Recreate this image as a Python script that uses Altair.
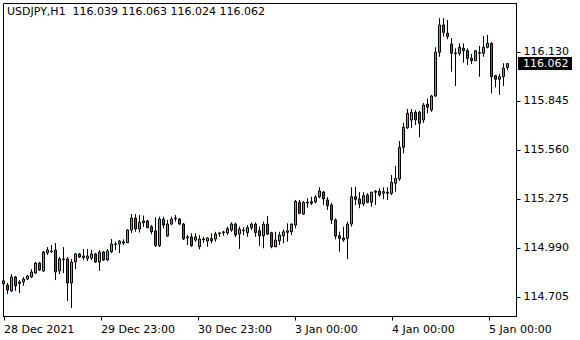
import altair as alt
import pandas as pd

symbol = "USDJPY"
timeframe = "H1"

opens = [114.799,114.774,114.740,114.821,114.783,114.792,114.809,114.821,114.844,114.902,
114.856,114.961,114.969,114.978,114.856,114.926,114.926,114.786,114.908,114.955,
114.943,114.929,114.931,114.955,114.908,114.966,114.920,114.968,115.010,115.013,
115.025,115.020,115.094,115.164,115.100,115.137,115.147,115.114,115.089,115.003,
115.158,115.059,115.129,115.160,115.158,115.129,115.050,115.054,115.036,114.997,
115.038,115.030,115.044,115.042,115.073,115.079,115.077,115.094,115.129,115.071,
115.090,115.079,115.108,115.129,115.090,115.061,115.129,115.079,114.997,115.032,
115.061,115.081,115.084,115.123,115.255,115.187,115.251,115.259,115.257,115.288,
115.315,115.269,115.240,115.153,115.061,115.048,115.046,115.129,115.288,115.275,
115.246,115.298,115.255,115.314,115.321,115.308,115.308,115.308,115.366,115.391,
115.575,115.689,115.734,115.779,115.779,115.734,115.827,115.792,115.874,116.128,
116.287,116.239,116.176,116.120,116.122,116.151,116.137,116.093,116.079,116.122,
116.122,116.157,116.180,115.992,115.971,115.986,116.039]
highs = [114.809,114.786,114.838,114.827,114.803,114.821,114.833,114.867,114.908,114.908,
114.972,114.995,115.007,115.019,114.937,114.995,114.937,114.926,114.961,114.961,
114.984,114.984,114.978,114.961,114.978,114.972,114.984,115.042,115.026,115.036,
115.040,115.098,115.187,115.187,115.182,115.178,115.153,115.123,115.168,115.172,
115.172,115.153,115.172,115.182,115.164,115.135,115.065,115.075,115.075,115.065,
115.055,115.052,115.075,115.084,115.084,115.090,115.114,115.139,115.137,115.114,
115.110,115.123,115.137,115.139,115.114,115.143,115.176,115.084,115.084,115.084,
115.098,115.133,115.133,115.269,115.269,115.263,115.279,115.288,115.298,115.343,
115.321,115.285,115.253,115.162,115.084,115.114,115.143,115.343,115.346,115.314,
115.314,115.308,115.317,115.327,115.337,115.343,115.343,115.414,115.467,115.612,
115.718,115.798,115.798,115.792,115.788,115.833,115.860,115.880,116.157,116.326,
116.326,116.316,116.210,116.151,116.180,116.180,116.151,116.118,116.141,116.165,
116.223,116.229,116.186,115.996,116.002,116.064,116.063]
lows = [114.769,114.722,114.734,114.740,114.728,114.769,114.803,114.815,114.838,114.856,
114.850,114.949,114.961,114.803,114.838,114.844,114.681,114.641,114.867,114.931,
114.920,114.914,114.920,114.902,114.856,114.914,114.914,114.961,114.978,114.961,
115.007,115.019,115.077,115.084,115.079,115.112,115.104,115.069,114.997,114.995,
115.104,115.055,115.123,115.143,115.123,115.036,115.007,114.997,115.026,114.982,
115.020,114.997,115.017,115.026,115.055,115.061,115.065,115.084,115.052,114.984,
115.065,115.055,115.094,115.055,115.001,114.988,115.065,114.988,114.994,115.007,
115.017,115.026,115.065,115.104,115.186,115.182,115.224,115.240,115.250,115.279,
115.240,115.211,115.129,115.040,114.968,115.026,114.924,115.114,115.240,115.221,
115.234,115.250,115.230,115.240,115.288,115.273,115.269,115.298,115.317,115.379,
115.540,115.682,115.688,115.705,115.634,115.717,115.773,115.782,115.868,116.102,
116.219,116.204,116.015,115.932,116.108,116.067,116.054,116.060,116.077,115.986,
116.102,116.151,115.889,115.924,115.880,115.932,116.024]
closes = [114.780,114.745,114.821,114.769,114.792,114.809,114.827,114.850,114.902,114.862,
114.966,114.978,114.972,114.850,114.926,114.923,114.786,114.908,114.955,114.937,
114.934,114.943,114.955,114.908,114.966,114.920,114.972,115.013,115.013,115.030,
115.019,115.094,115.164,115.100,115.139,115.147,115.108,115.084,115.003,115.158,
115.123,115.129,115.158,115.164,115.129,115.042,115.054,115.003,115.054,115.042,
115.042,115.048,115.032,115.071,115.077,115.083,115.102,115.129,115.065,115.100,
115.094,115.108,115.129,115.079,115.061,115.128,115.071,114.997,115.036,115.065,
115.084,115.090,115.128,115.261,115.191,115.255,115.255,115.250,115.286,115.321,
115.275,115.236,115.153,115.059,115.046,115.036,115.129,115.288,115.273,115.246,
115.294,115.255,115.314,115.321,115.298,115.317,115.314,115.372,115.395,115.575,
115.692,115.773,115.779,115.734,115.715,115.821,115.808,115.874,116.128,116.287,
116.244,116.219,116.122,116.124,116.157,116.137,116.093,116.079,116.137,116.126,
116.157,116.180,115.986,115.971,115.986,116.035,116.062]

x_tick_values = [0, 24.25, 48.5, 72.75, 97, 121.25]
x_tick_labels = ["28 Dec 2021", "29 Dec 23:00", "30 Dec 23:00", "3 Jan 00:00", "4 Jan 00:00", "5 Jan 00:00"]
y_tick_values = [114.705, 114.990, 115.275, 115.560, 115.845, 116.130]

df = pd.DataFrame({
    "i": list(range(len(opens))),
    "open": opens, "high": highs, "low": lows, "close": closes,
})
df["dir"] = ["up" if c >= o else "down" for o, c in zip(opens, closes)]

FONT = "DejaVu Sans"
FS = 11
xscale = alt.Scale(domain=[-0.125, 128.125], nice=False, zero=False, padding=0)
yscale = alt.Scale(domain=[114.5941, 116.4146], nice=False, zero=False, padding=0)

label_arr = "[" + ",".join("'" + s + "'" for s in x_tick_labels) + "]"
xaxis = alt.Axis(values=x_tick_values, labelExpr=label_arr + "[round(datum.value/24.25)]",
                 labelAlign="left", labelOffset=0, labelPadding=3, tickSize=4,
                 title=None, grid=False, labelFont=FONT, labelFontSize=FS,
                 labelColor="black", tickColor="black", domainColor="black",
                 labelOverlap=False, labelFlush=False)
yaxis = alt.Axis(values=y_tick_values, format=".3f", orient="right", tickSize=4,
                 labelPadding=3, title=None, grid=False, labelFont=FONT, labelFontSize=FS,
                 labelColor="black", tickColor="black", domainColor="black",
                 labelOverlap=False, labelFlush=False)

base = alt.Chart(df)
wicks = base.mark_rule(color="black", strokeWidth=1).encode(
    x=alt.X("i:Q", scale=xscale, axis=xaxis),
    y=alt.Y("low:Q", scale=yscale, axis=yaxis),
    y2="high:Q",
)
bodies = base.mark_bar(size=2, stroke="black", strokeWidth=1).encode(
    x=alt.X("i:Q", scale=xscale),
    y=alt.Y("open:Q", scale=yscale),
    y2="close:Q",
    fill=alt.Fill("dir:N", scale=alt.Scale(domain=["up", "down"], range=["#20e020", "#e02020"]), legend=None),
)

title_text = f"{symbol},{timeframe}\u00a0 {opens[-1]:.3f} {highs[-1]:.3f} {lows[-1]:.3f} {closes[-1]:.3f}"
title = alt.Chart(pd.DataFrame({"t": [title_text]})).mark_text(
    align="left", baseline="middle", font=FONT, fontSize=FS, color="black"
).encode(x=alt.value(4), y=alt.value(9), text="t:N")

last_df = pd.DataFrame({"p": [closes[-1]], "t": [f"{closes[-1]:.3f}"]})
price_box = alt.Chart(last_df).mark_rule(color="black", strokeWidth=13, strokeCap="butt").encode(
    x=alt.value(515), x2=alt.value(569), y=alt.Y("p:Q", scale=yscale)
)
price_text = alt.Chart(last_df).mark_text(
    align="left", baseline="middle", font=FONT, fontSize=FS, color="white"
).encode(x=alt.value(520), y=alt.Y("p:Q", scale=yscale), text="t:N")

chart = alt.layer(wicks, bodies, title, price_box, price_text).properties(
    width=513, height=313,
    autosize=alt.AutoSizeParams(type="none"),
    padding={"left": 3, "top": 3, "right": 64, "bottom": 24},
    background="white",
).configure_view(stroke="black", strokeWidth=1)

chart.save("out.html", embed_options={"renderer": "svg", "actions": False})
